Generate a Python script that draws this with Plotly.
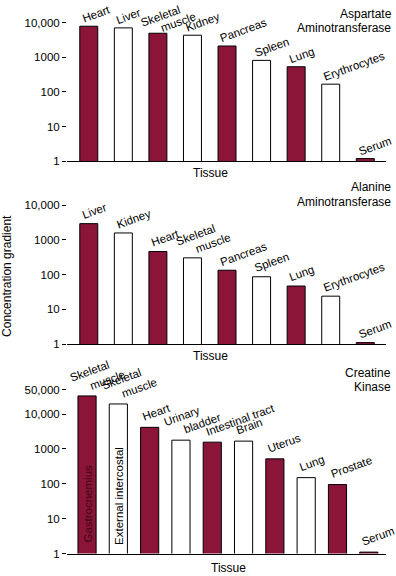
import plotly.graph_objects as go
import math

# ---- data ----
ast_tissues = ["Heart", "Liver", "Skeletal<br>muscle", "Kidney", "Pancreas", "Spleen", "Lung", "Erythrocytes", "Serum"]
ast_values = [7800, 7000, 4900, 4300, 2100, 810, 530, 167, 1.2]
ast_fill = ["r", "w", "r", "w", "r", "w", "r", "w", "r"]

alt_tissues = ["Liver", "Kidney", "Heart", "Skeletal<br>muscle", "Pancreas", "Spleen", "Lung", "Erythrocytes", "Serum"]
alt_values = [2950, 1590, 465, 305, 134, 87, 47, 24, 1.1]
alt_fill = ["r", "w", "r", "w", "r", "w", "r", "w", "r"]

ck_tissues = ["Skeletal<br>muscle", "Skeletal<br>muscle", "Heart", "Urinary<br>bladder", "Intestinal tract",
              "Brain", "Uterus", "Lung", "Prostate", "Serum"]
ck_values = [33000, 19400, 4150, 1780, 1560, 1670, 518, 150, 95, 1.1]
ck_fill = ["r", "w", "r", "w", "r", "w", "r", "w", "r", "r"]
ck_inner = ["Gastrocnemius", "External intercostal"]

tick_vals_4 = [1, 10, 100, 1000, 10000]
tick_text_4 = ["1", "10", "100", "1000", "10,000"]
tick_vals_5 = [1, 10, 100, 1000, 10000, 50000]
tick_text_5 = ["1", "10", "100", "1000", "10,000", "50,000"]

RED = "#8a1538"
INNER_RED = "#420616"
FONT = "Liberation Sans, Arial, Helvetica, sans-serif"
H = 576
W = 396

def sy(y_ref):
    # photographed page shows y at ~0.9735*y + 7.6; convert target pixel to page pixel
    return (y_ref - 7.6) / 0.9735

def py(px):
    return 1 - sy(px) / H

def colors(fl):
    return [RED if f == "r" else "white" for f in fl]

fig = go.Figure()

panels = [
    dict(t=ast_tissues, v=ast_values, f=ast_fill, xa="x", ya="y", width=0.52,
         dom=[py(162), py(24)], rng=[0, 4], xr=[-0.63, 8.6], tv=tick_vals_4, tt=tick_text_4,
         yshift=-1, ml=[(-12, 3), (8, -2)], tissue_y=173.5, tissue_x=210.5,
         title=["Aspartate", "Aminotransferase"], title_y=[None, 29]),
    dict(t=alt_tissues, v=alt_values, f=alt_fill, xa="x2", ya="y2", width=0.52,
         dom=[py(343.7), py(205.7)], rng=[0, 4], xr=[-0.63, 8.6], tv=tick_vals_4, tt=tick_text_4,
         yshift=0, ml=[(-12, 8), (8, 0)], tissue_y=355.7, tissue_x=210.5,
         title=["Alanine", "Aminotransferase"], title_y=[188, 202]),
    dict(t=ck_tissues, v=ck_values, f=ck_fill, xa="x3", ya="y3", width=0.58,
         dom=[py(552), py(389)], rng=[0, math.log10(50000)], xr=[-0.64, 9.55], tv=tick_vals_5, tt=tick_text_5,
         yshift=2, ml=[(-12, 8), (8, 0)], tissue_y=566.5, tissue_x=228,
         title=["Creatine", "Kinase"], title_y=[372, 386]),
]

LABEL_FONT = dict(family=FONT, size=11.5, color="black")
annotations = []
for i, p in enumerate(panels):
    n = len(p["v"])
    xs = list(range(n))
    fig.add_trace(go.Bar(
        x=xs, y=p["v"], xaxis=p["xa"], yaxis=p["ya"], width=p["width"],
        marker=dict(color=colors(p["f"]), line=dict(color="black", width=1)),
        showlegend=False, hoverinfo="skip"))
    for j, (lab, val) in enumerate(zip(p["t"], p["v"])):
        lines = lab.split("<br>")
        shifts = [(-2, 0)] if len(lines) == 1 else p["ml"]
        for line, (dx, dy) in zip(lines, shifts):
            annotations.append(dict(
                x=j - p["width"] / 2, y=math.log10(val), xref=p["xa"], yref=p["ya"],
                text=line, showarrow=False, textangle=-20,
                xanchor="left", yanchor="bottom", xshift=dx, yshift=p["yshift"] + dy,
                font=LABEL_FONT))
    annotations.append(dict(x=p["tissue_x"] / W, y=py(p["tissue_y"]), xref="paper", yref="paper",
                            text="Tissue", showarrow=False, xanchor="center", yanchor="middle",
                            font=dict(family=FONT, size=12, color="black")))
    for line, yy in zip(p["title"], p["title_y"]):
        if yy is None:
            annotations.append(dict(x=393 / W, y=1.0, xref="paper", yref="paper",
                                    text=line, showarrow=False, xanchor="right", yanchor="top",
                                    borderpad=0,
                                    font=dict(family=FONT, size=12, color="black")))
        else:
            annotations.append(dict(x=393 / W, y=py(yy), xref="paper", yref="paper",
                                    text=line, showarrow=False, xanchor="right", yanchor="middle",
                                    font=dict(family=FONT, size=12, color="black")))
    sfx = "" if i == 0 else str(i + 1)
    fig.update_layout(**{
        "xaxis" + sfx: dict(domain=[67 / W, 386 / W], range=p["xr"], anchor=p["ya"],
                            showline=True, linecolor="black", linewidth=1, showticklabels=False,
                            ticks="", showgrid=False, zeroline=False, fixedrange=True),
        "yaxis" + sfx: dict(domain=p["dom"], type="log", range=p["rng"], anchor=p["xa"],
                            tickvals=p["tv"], ticktext=p["tt"], ticks="outside", ticklen=4,
                            tickcolor="black", showline=False, showgrid=False, zeroline=False,
                            tickfont=dict(family=FONT, size=11.5, color="black"), fixedrange=True),
    })

# labels inside the creatine kinase bars
inner_base = [0.26, 0.2]
for j, txt in enumerate(ck_inner):
    annotations.append(dict(
        x=j, y=inner_base[j], xref="x3", yref="y3", text=txt, showarrow=False, textangle=-90,
        xanchor="center", yanchor="bottom",
        font=dict(family=FONT, size=11.5, color=INNER_RED if ck_fill[j] == "r" else "black")))

annotations.append(dict(x=7 / W, y=py(276), xref="paper", yref="paper", text="Concentration gradient",
                        showarrow=False, textangle=-90, xanchor="center", yanchor="middle",
                        font=dict(family=FONT, size=12, color="black")))

fig.update_layout(width=W, height=H, margin=dict(l=0, r=0, t=0, b=0),
                  plot_bgcolor="white", paper_bgcolor="white", bargap=0.4,
                  annotations=annotations, font=dict(family=FONT, size=12, color="black"))

post = ("var d=document.getElementById('{plot_id}');"
        "d.style.position='fixed';d.style.left='0px';d.style.top='0px';"
        "document.body.style.margin='0';document.body.style.overflow='hidden';"
        "document.documentElement.style.overflow='hidden';")
fig.write_html("out.html", config={"displayModeBar": False}, post_script=post)
